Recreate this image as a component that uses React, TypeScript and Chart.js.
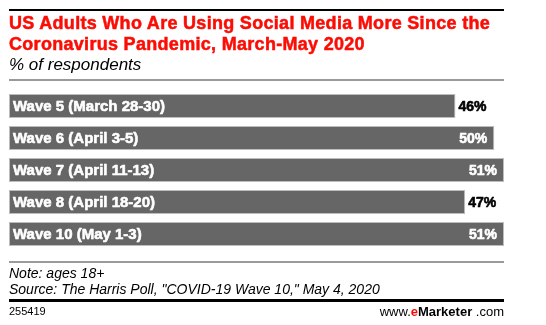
import React, { useEffect, useRef } from "react";
import { Chart, registerables } from "chart.js";

Chart.register(...registerables);

const categories = [
  "Wave 5 (March 28-30)",
  "Wave 6 (April 3-5)",
  "Wave 7 (April 11-13)",
  "Wave 8 (April 18-20)",
  "Wave 10 (May 1-3)",
];
const values = [46, 50, 51, 47, 51];
const valueLabels = ["46%", "50%", "51%", "47%", "51%"];
const axisMax = 51;
const insideThreshold = 50;

const FONT = "'Liberation Sans', Arial, Helvetica, sans-serif";
const RED = "#fb0d05";

const barLabels = {
  id: "barLabels",
  afterDatasetsDraw(chart: any) {
    const ctx = chart.ctx;
    const meta = chart.getDatasetMeta(0);
    ctx.save();
    ctx.textBaseline = "middle";
    ctx.lineJoin = "round";
    meta.data.forEach((bar: any, i: number) => {
      const { x, y, base } = bar.getProps(["x", "y", "base"], true);
      ctx.font = `bold 15px ${FONT}`;
      ctx.fillStyle = "#ffffff";
      ctx.strokeStyle = "#ffffff";
      ctx.lineWidth = 0.6;
      ctx.textAlign = "left";
      ctx.fillText(categories[i], base + 4, y + 1);
      ctx.strokeText(categories[i], base + 4, y + 1);
      ctx.font = `bold 14px ${FONT}`;
      const inside = values[i] >= insideThreshold;
      const color = inside ? "#ffffff" : "#000000";
      ctx.fillStyle = color;
      ctx.strokeStyle = color;
      if (inside) {
        ctx.textAlign = "right";
        ctx.fillText(valueLabels[i], x - 7, y + 1);
        ctx.strokeText(valueLabels[i], x - 7, y + 1);
      } else {
        ctx.textAlign = "left";
        ctx.fillText(valueLabels[i], x + 3, y + 1);
        ctx.strokeText(valueLabels[i], x + 3, y + 1);
      }
    });
    ctx.restore();
  },
};

export default function App() {
  const ref = useRef<HTMLCanvasElement>(null);
  useEffect(() => {
    if (!ref.current) return;
    const chart = new Chart(ref.current, {
      type: "bar",
      data: {
        labels: categories,
        datasets: [
          {
            data: values,
            backgroundColor: "#666666",
            borderColor: "#bdbdbd",
            borderWidth: 1,
            borderSkipped: false,
            barPercentage: 0.75,
            categoryPercentage: 1,
          },
        ],
      },
      options: {
        indexAxis: "y",
        responsive: false,
        animation: false,
        layout: { padding: { left: 9, right: 42, top: 90, bottom: 75 } },
        scales: {
          x: { display: false, min: 0, max: axisMax },
          y: { display: false },
        },
        plugins: {
          legend: { display: false },
          tooltip: { enabled: false },
          title: { display: false },
        },
      },
      plugins: [barLabels],
    });
    return () => chart.destroy();
  }, []);

  const abs = (s: React.CSSProperties): React.CSSProperties => ({
    position: "absolute",
    ...s,
  });

  return (
    <div
      style={{
        position: "absolute",
        left: 0,
        top: 0,
        width: 546,
        height: 325,
        background: "#fff",
        fontFamily: FONT,
        overflow: "hidden",
      }}
    >
      <canvas ref={ref} width={546} height={325} style={abs({ left: 0, top: 0 })} />
      <div style={abs({ left: 9, top: 9, width: 495, height: 2, background: "#000" })} />
      <div
        style={abs({
          left: 9,
          top: 13,
          width: 530,
          fontSize: 18,
          lineHeight: "21px",
          fontWeight: "bold",
          letterSpacing: "0.3px",
          color: RED,
          WebkitTextStroke: `0.5px ${RED}`,
          whiteSpace: "nowrap",
        })}
      >
        US Adults Who Are Using Social Media More Since the
        <br />
        Coronavirus Pandemic, March-May 2020
      </div>
      <div
        style={abs({
          left: 9,
          top: 55,
          fontSize: 17,
          lineHeight: "19px",
          fontStyle: "italic",
          color: "#000",
          whiteSpace: "nowrap",
        })}
      >
        % of respondents
      </div>
      <div style={abs({ left: 9, top: 79, width: 495, height: 2, background: "#9a9a9a" })} />
      <div style={abs({ left: 9, top: 261, width: 495, height: 2, background: "#9a9a9a" })} />
      <div
        style={abs({
          left: 9,
          top: 265,
          fontSize: 14,
          lineHeight: "16px",
          fontStyle: "italic",
          color: "#000",
          whiteSpace: "nowrap",
        })}
      >
        Note: ages 18+
        <br />
        Source: The Harris Poll, "COVID-19 Wave 10," May 4, 2020
      </div>
      <div style={abs({ left: 9, top: 299, width: 495, height: 3, background: "#000" })} />
      <div
        style={abs({
          left: 9,
          top: 305,
          fontSize: 11,
          lineHeight: "13px",
          color: "#000",
          whiteSpace: "nowrap",
        })}
      >
        255419
      </div>
      <div
        style={abs({
          right: 42,
          top: 304,
          fontSize: 13,
          lineHeight: "15px",
          color: "#000",
          whiteSpace: "nowrap",
        })}
      >
        www.<span style={{ color: RED, fontWeight: "bold" }}>e</span>
        <span style={{ fontWeight: "bold" }}>Marketer</span> .com
      </div>
    </div>
  );
}
